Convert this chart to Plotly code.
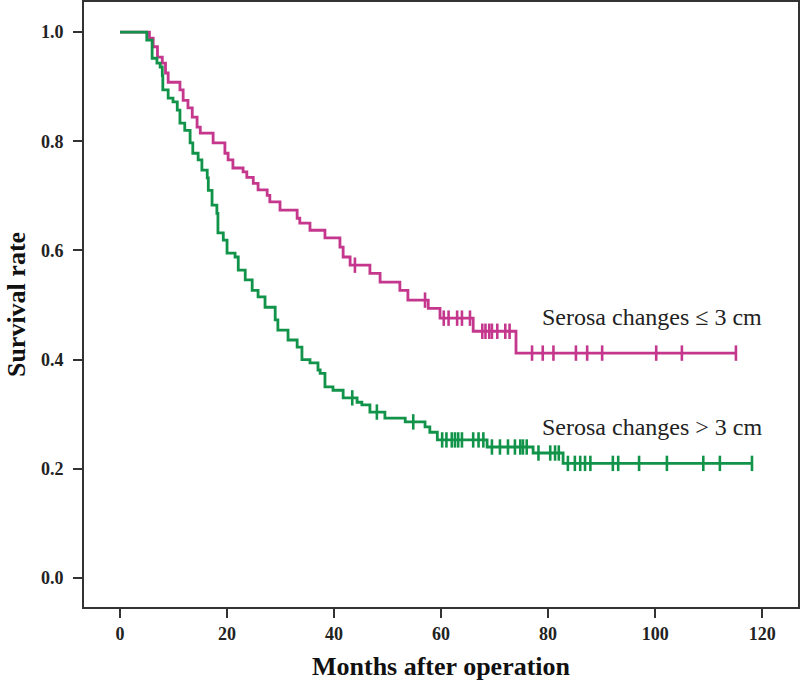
import plotly.graph_objects as go

# ---- Data ----
# Serosa changes <= 3 cm : step times (months) and survival after each step
le3_time = [0, 5.5, 6.2, 7.0, 7.9, 8.5, 9.0, 11.2, 11.8, 12.7, 13.5, 14.4, 15.0, 17.4,
            19.6, 20.2, 21.1, 23.0, 23.7, 24.9, 25.8, 27.5, 28.0, 29.9, 33.1, 33.6,
            35.5, 38.3, 41.1, 41.7, 43.0, 46.7, 48.6, 52.3, 53.8, 57.6, 59.8, 66.0,
            74.0, 115.1]
le3_surv = [1.0, 0.989, 0.973, 0.954, 0.943, 0.925, 0.908, 0.894, 0.875, 0.861, 0.844,
            0.826, 0.815, 0.797, 0.778, 0.766, 0.751, 0.744, 0.734, 0.723, 0.711,
            0.701, 0.689, 0.674, 0.659, 0.650, 0.637, 0.623, 0.606, 0.588, 0.573,
            0.558, 0.542, 0.527, 0.509, 0.494, 0.476, 0.452, 0.412, 0.412]
le3_cens_time = [43.9, 57.0, 60.5, 61.4, 63.0, 63.9, 65.4,
                 67.7, 68.3, 69.0, 69.5, 70.5, 72.0, 72.8,
                 77.0, 79.0, 81.0, 85.2, 87.3, 90.1, 100.2, 105.0, 115.1]
le3_cens_surv = [0.573, 0.509, 0.476, 0.476, 0.476, 0.476, 0.476,
                 0.452, 0.452, 0.452, 0.452, 0.452, 0.452, 0.452,
                 0.412, 0.412, 0.412, 0.412, 0.412, 0.412, 0.412, 0.412, 0.412]

# Serosa changes > 3 cm
gt3_time = [0, 5.0, 6.0, 6.9, 7.5, 7.9, 8.0, 9.0, 9.9, 10.7, 11.2, 12.1, 13.1, 13.6,
            14.6, 15.3, 16.3, 16.5, 17.2, 18.1, 18.3, 19.3, 20.0, 21.5, 22.1, 23.4,
            24.7, 25.8, 27.1, 29.0, 29.5, 31.4, 33.1, 34.0, 35.5, 37.0, 37.4, 38.3,
            39.8, 41.7, 44.3, 45.2, 46.7, 49.5, 53.3, 57.0, 57.9, 59.3, 68.6, 77.2,
            82.8, 118.1]
gt3_surv = [1.0, 0.985, 0.952, 0.943, 0.936, 0.920, 0.894, 0.879, 0.872, 0.857, 0.833,
            0.820, 0.797, 0.778, 0.766, 0.747, 0.733, 0.710, 0.683, 0.668, 0.632,
            0.619, 0.595, 0.588, 0.564, 0.546, 0.527, 0.515, 0.496, 0.473, 0.454,
            0.436, 0.423, 0.400, 0.394, 0.381, 0.375, 0.350, 0.344, 0.330, 0.322,
            0.317, 0.304, 0.293, 0.286, 0.277, 0.267, 0.253, 0.240, 0.229, 0.210,
            0.210]
gt3_cens_time = [43.4, 48.0, 54.8,
                 60.2, 61.0, 62.0, 62.6, 63.2, 63.9, 66.0, 67.0, 67.9,
                 69.5, 71.0, 72.5, 73.8, 74.8, 75.3, 76.0,
                 78.2, 80.4, 81.3, 82.0,
                 83.7, 85.0, 86.0, 86.9, 87.9, 92.1, 93.1, 97.0, 102.2, 109.0, 112.1, 118.1]
gt3_cens_surv = [0.330, 0.304, 0.286,
                 0.253, 0.253, 0.253, 0.253, 0.253, 0.253, 0.253, 0.253, 0.253,
                 0.240, 0.240, 0.240, 0.240, 0.240, 0.240, 0.240,
                 0.229, 0.229, 0.229, 0.229,
                 0.210, 0.210, 0.210, 0.210, 0.210, 0.210, 0.210, 0.210, 0.210, 0.210, 0.210, 0.210]

x_ticks = [0, 20, 40, 60, 80, 100, 120]
y_ticks = [0.0, 0.2, 0.4, 0.6, 0.8, 1.0]
y_tick_text = ["0.0", "0.2", "0.4", "0.6", "0.8", "1.0"]

label_le3 = "Serosa changes ≤ 3 cm"
label_gt3 = "Serosa changes > 3 cm"

MAGENTA = "#C4378D"
GREEN = "#11944A"
SERIF = "Liberation Serif, Times New Roman, serif"

fig = go.Figure()

for t, s, ct, cs, col in [
    (le3_time, le3_surv, le3_cens_time, le3_cens_surv, MAGENTA),
    (gt3_time, gt3_surv, gt3_cens_time, gt3_cens_surv, GREEN),
]:
    fig.add_trace(go.Scatter(x=t, y=s, mode="lines", line=dict(color=col, width=2.8, shape="hv"),
                             showlegend=False, hoverinfo="skip"))
    fig.add_trace(go.Scatter(x=ct, y=cs, mode="markers",
                             marker=dict(symbol="line-ns", size=11, line=dict(color=col, width=2.6)),
                             showlegend=False, hoverinfo="skip"))

fig.add_annotation(x=78.5, y=0.478, text=label_le3, showarrow=False, xanchor="left",
                   yanchor="middle", font=dict(family=SERIF, size=24, color="#222222"))
fig.add_annotation(x=78.5, y=0.277, text=label_gt3, showarrow=False, xanchor="left",
                   yanchor="middle", font=dict(family=SERIF, size=24, color="#222222"))

axis_common = dict(showgrid=False, zeroline=False, showline=True, linecolor="#333333",
                   linewidth=2, mirror=True, ticks="outside", tickcolor="#333333",
                   tickwidth=2, ticklen=9, automargin=False,
                   tickfont=dict(family=SERIF, size=18, color="#222222", weight="bold"))

fig.update_xaxes(range=[-6.73, 126.7], tickvals=x_ticks,
                 title=dict(text="Months after operation",
                            font=dict(family=SERIF, size=26, color="#111111", weight="bold"),
                            standoff=14),
                 **axis_common)
fig.update_yaxes(range=[-0.053, 1.055], tickvals=y_ticks, ticktext=y_tick_text,
                 title=dict(text="Survival rate",
                            font=dict(family=SERIF, size=26, color="#111111", weight="bold"),
                            standoff=8),
                 ticklabelstandoff=6,
                 **axis_common)

fig.update_layout(width=800, height=690, margin=dict(l=84, r=2, t=2, b=83),
                  plot_bgcolor="white", paper_bgcolor="white")

fig.write_html("out.html", config={"displayModeBar": False},
               post_script="document.body.style.margin='0';document.body.style.overflow='hidden';")
